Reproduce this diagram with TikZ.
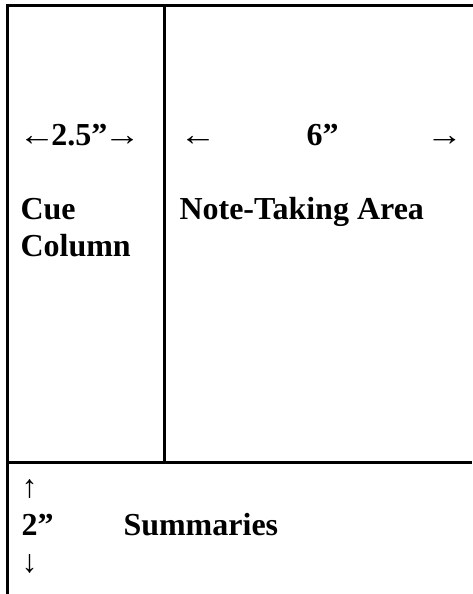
\documentclass[tikz,border=0pt]{standalone}
\usepackage{fontspec}
\usepackage{graphicx}
\setmainfont{Liberation Serif}
\newcommand{\larr}{\scalebox{1.15}[1]{←}}
\newcommand{\rarr}{\scalebox{1.15}[1]{→}}
\begin{document}
\begin{tikzpicture}[x=1pt,y=-1pt,
  rule/.style={line width=2.7pt,black},
  lbl/.style={anchor=base west,inner sep=0pt,outer sep=0pt,font=\fontsize{32}{38}\selectfont\bfseries},
  arr/.style={anchor=base west,inner sep=0pt,outer sep=0pt,font=\fontsize{32}{38}\selectfont}]
\useasboundingbox (0,0) rectangle (472,594);
% frame
\coordinate (tl) at (7.3,5.4);
\coordinate (tr) at (472,5.4);
\coordinate (bl) at (7.3,594);
\coordinate (mt) at (164.5,5.4);
\coordinate (mb) at (164.5,462.5);
\coordinate (hl) at (7.3,462.5);
\coordinate (hr) at (472,462.5);
\draw[rule,line cap=rect] (tr) -- (tl) -- (bl);
\draw[rule] (mt) -- (mb);
\draw[rule] (hl) -- (hr);
% texts
\node[lbl] (w1) at (18.5,145.7) {{\mdseries\larr}\kern-4pt 2.5”\kern-3.5pt{\mdseries\rarr}};
\node[arr] (la) at (179.5,145.7) {\larr};
\node[lbl] (w2) at (306.5,145.7) {6”};
\node[arr] (ra) at (426,145.7) {\rarr};
\node[lbl] (cue) at (20.5,219.3) {Cue};
\node[lbl] (col) at (20.5,256.7) {Column};
\node[lbl] (nta) at (179.5,219.3) {Note-Taking Area};
\node[arr] (ua) at (21.5,497.6) {↑};
\node[lbl] (h2) at (21.5,535) {2”};
\node[arr] (da) at (21.5,572.4) {↓};
\node[lbl] (sum) at (123.5,535) {Summaries};
\end{tikzpicture}
\end{document}
